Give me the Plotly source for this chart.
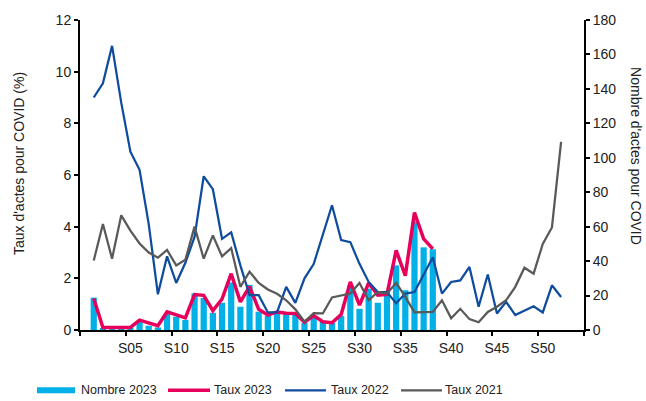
import plotly.graph_objects as go

# Weeks S01..S52
weeks = list(range(1, 53))
weeks_2023 = list(range(1, 39))

# Nombre d'actes pour COVID, 2023 (right axis)
nombre_2023 = [18.8, 1, 1, 1, 1, 4.8, 2.5, 1.5, 9.6, 7.7, 5.8, 21.2, 18.6, 10.0, 15.8,
               27.6, 13.5, 26.2, 10.6, 8.2, 9.6, 9.7, 9.2, 4.1, 7.7, 4.8, 4.0, 8.1,
               26.0, 12.3, 24.0, 15.8, 22.1, 37.5, 23.1, 63.0, 48.0, 46.9]

# Taux d'actes pour COVID (%) (left axis)
taux_2023 = [1.22, 0.1, 0.1, 0.1, 0.1, 0.38, 0.26, 0.17, 0.7, 0.59, 0.47, 1.37, 1.34,
             0.75, 1.2, 2.18, 1.09, 1.68, 0.8, 0.58, 0.7, 0.65, 0.64, 0.3, 0.56, 0.32,
             0.28, 0.6, 1.86, 0.96, 1.82, 1.35, 1.38, 3.08, 2.1, 4.55, 3.53, 3.14]

taux_2022 = [9.0, 9.55, 11.0, 8.8, 6.9, 6.2, 4.1, 1.38, 2.85, 1.82, 2.6, 3.6, 5.95,
             5.45, 3.53, 3.78, 2.5, 1.35, 1.35, 0.68, 0.68, 1.67, 1.05, 2.0, 2.55, 3.7,
             4.83, 3.48, 3.4, 2.56, 1.86, 1.47, 1.47, 1.03, 1.41, 1.47, 2.12, 2.82,
             1.41, 1.86, 1.92, 2.44, 0.9, 2.15, 0.64, 1.09, 0.58, 0.74, 0.92, 0.68,
             1.73, 1.28]

taux_2021 = [2.69, 4.1, 2.76, 4.44, 3.85, 3.35, 3.0, 2.8, 3.1, 2.5, 2.72, 4.0, 2.76,
             3.66, 2.85, 3.17, 1.67, 2.26, 1.82, 1.57, 1.4, 1.15, 0.8, 0.32, 0.65,
             0.64, 1.26, 1.35, 1.41, 1.82, 1.15, 1.47, 1.41, 1.82, 1.28, 0.68, 0.68,
             0.7, 1.15, 0.45, 0.82, 0.42, 0.3, 0.7, 0.9, 1.15, 1.67, 2.41, 2.18, 3.33,
             3.97, 7.28]

tick_weeks = [5, 10, 15, 20, 25, 30, 35, 40, 45, 50]
tick_labels = ["S%02d" % w for w in tick_weeks]

legend_names = ["Nombre 2023", "Taux 2023", "Taux 2022", "Taux 2021"]

C_BAR = "#00B0E6"
C_2023 = "#E6005C"
C_2022 = "#0F4C9E"
C_2021 = "#595959"
FONT = "Liberation Sans, Arial, sans-serif"
TXT = "#222222"

fig = go.Figure()

# counts on the primary axis (drawn underneath), rates on the overlaying axis
fig.add_trace(go.Bar(x=weeks_2023, y=nombre_2023, name=legend_names[0],
                     marker=dict(color=C_BAR, line=dict(width=0)), yaxis="y"))
fig.add_trace(go.Scatter(x=weeks_2023, y=taux_2023, name=legend_names[1], mode="lines",
                         line=dict(color=C_2023, width=3.5), yaxis="y2"))
fig.add_trace(go.Scatter(x=weeks, y=taux_2022, name=legend_names[2], mode="lines",
                         line=dict(color=C_2022, width=2.25), yaxis="y2"))
fig.add_trace(go.Scatter(x=weeks, y=taux_2021, name=legend_names[3], mode="lines",
                         line=dict(color=C_2021, width=2.25), yaxis="y2"))

axis_common = dict(showgrid=False, zeroline=False, showline=True, linecolor="black",
                   linewidth=2, ticks="outside", ticklen=4, tickwidth=2, tickcolor="black",
                   tickfont=dict(family=FONT, size=14, color=TXT))

fig.update_layout(
    width=646, height=401,
    margin=dict(l=80, r=62, t=18, b=71),
    paper_bgcolor="white", plot_bgcolor="white",
    showlegend=False,
    bargap=0.32,
    xaxis=dict(range=[-0.5, 54.5], tickvals=tick_weeks, ticktext=tick_labels,
               showgrid=False, zeroline=False, showline=True, linecolor="black",
               linewidth=2, ticks="", ticklabelstandoff=4,
               tickfont=dict(family=FONT, size=14, color=TXT),
               minor=dict(ticks="outside", tick0=-0.5, dtick=5, ticklen=4,
                          tickwidth=2, tickcolor="black", showgrid=False)),
    yaxis=dict(side="right", range=[0, 180], tick0=0, dtick=20, **axis_common),
    yaxis2=dict(side="left", overlaying="y", range=[0, 12], tick0=0, dtick=2,
                **axis_common),
)

# axis titles
fig.add_annotation(text="Taux d'actes pour COVID (%)", xref="paper", yref="paper",
                   x=(19 - 80) / 504, y=(330 - 163) / 312, showarrow=False, textangle=-90,
                   font=dict(family=FONT, size=14, color=TXT), xanchor="center",
                   yanchor="middle")
fig.add_annotation(text="Nombre d'actes pour COVID", xref="paper", yref="paper",
                   x=(636 - 80) / 504, y=(330 - 155) / 312, showarrow=False, textangle=90,
                   font=dict(family=FONT, size=14, color=TXT), xanchor="center",
                   yanchor="middle")

# legend row under the chart
def px_x(p):
    return (p - 80) / 504

def px_y(p):
    return (330 - p) / 312

ly = 390.7
legend_items = [
    ("rect", C_BAR, 37, 75, 79),
    ("line", C_2023, 168, 210, 212),
    ("line", C_2022, 285, 326, 329),
    ("line", C_2021, 401, 442, 443),
]
for (kind, color, x0, x1, tx), name in zip(legend_items, legend_names):
    if kind == "rect":
        fig.add_shape(type="rect", xref="paper", yref="paper",
                      x0=px_x(x0), x1=px_x(x1), y0=px_y(ly - 3), y1=px_y(ly + 3),
                      fillcolor=color, line=dict(width=0))
    else:
        w = 3.5 if color == C_2023 else 2.25
        fig.add_shape(type="line", xref="paper", yref="paper",
                      x0=px_x(x0), x1=px_x(x1), y0=px_y(ly), y1=px_y(ly),
                      line=dict(color=color, width=w))
    fig.add_annotation(text=name, xref="paper", yref="paper", x=px_x(tx), y=px_y(ly),
                       xanchor="left", yanchor="middle", showarrow=False,
                       font=dict(family=FONT, size=12.5, color=TXT))

fig.write_html("out.html")
